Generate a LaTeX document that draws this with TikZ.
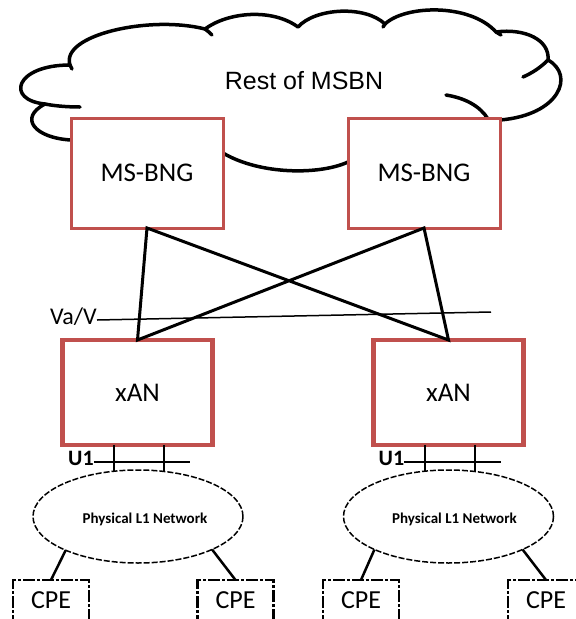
\documentclass[tikz,border=0pt]{standalone}
\usepackage{fontspec}
\setmainfont{Carlito}
\newfontfamily\arialf{Liberation Sans}
\usetikzlibrary{shapes.geometric}
\definecolor{boxred}{RGB}{192,80,77}
\begin{document}
\begin{tikzpicture}[x=1pt,y=-1pt,
  cloudline/.style={line width=3.5pt, line cap=round, line join=round},
  bngbox/.style={draw=boxred, line width=3pt, fill=white, minimum width=152pt, minimum height=110pt, inner sep=0pt, outer sep=0pt, font=\fontsize{27}{30}\selectfont},
  xanbox/.style={draw=boxred, line width=4.5pt, fill=white, minimum width=150pt, minimum height=105pt, inner sep=0pt, outer sep=0pt, font=\fontsize{27}{30}\selectfont},
  link/.style={line width=3pt, line join=miter},
  refline/.style={line width=1.5pt},
  u1line/.style={line width=2pt},
  l1net/.style={draw, ellipse, dash pattern=on 6pt off 2pt, line width=1.5pt, minimum width=210pt, minimum height=93pt, inner sep=0pt, outer sep=0pt},
  l1txt/.style={font=\bfseries\fontsize{15}{18}\selectfont, inner sep=0pt, anchor=base},
  cpebox/.style={draw, line width=2.5pt, dash pattern=on 12pt off 2pt on 3pt off 2pt, minimum width=76pt, minimum height=41pt, inner sep=0pt, outer sep=0pt, font=\fontsize{26}{30}\selectfont},
  cpelink/.style={line width=2.5pt},
  u1txt/.style={font=\bfseries\fontsize{22}{26}\selectfont, inner sep=0pt, anchor=base}
]
\useasboundingbox (0,0) rectangle (576,619);
\clip (0,0) rectangle (576,619);
\fill[white] (0,0) rectangle (576,619);

% cloud
\draw[cloudline, fill=white] (71,140) .. controls (35,138) and (18,118) .. (45,104)
  .. controls (5,100) and (15,65) .. (70,65)
  .. controls (60,35) and (150,15) .. (205,29)
  .. controls (228,12) and (272,8) .. (298,27)
  .. controls (315,8) and (365,5) .. (385,24)
  .. controls (405,5) and (470,3) .. (496,32)
  .. controls (525,28) and (550,40) .. (548,60)
  .. controls (575,75) and (560,115) .. (500,120)
  -- (420,160) -- (348,162)
  .. controls (320,175) and (260,175) .. (223,153)
  -- (150,150) -- cycle;
\draw[cloudline] (45,104) .. controls (55,106) and (68,107) .. (80,107);
\draw[cloudline] (70,65) -- (72,69);
\draw[cloudline] (205,29) .. controls (208,31) and (210,33) .. (212,35);
\draw[cloudline] (385,24) -- (383,27);
\draw[cloudline] (496,32) -- (501,35);
\draw[cloudline] (548,60) .. controls (540,68) and (532,73) .. (523,77);
\draw[cloudline] (446,95) .. controls (465,98) and (480,106) .. (488,119);
\node[font=\arialf\fontsize{25}{30}\selectfont, inner sep=0pt, anchor=base] (cloudtxt) at (304,89) {Rest of MSBN};

% boxes
\node[bngbox] (bngL) at (147,173) {MS-BNG};
\node[bngbox] (bngR) at (424,173) {MS-BNG};
\node[xanbox] (xanL) at (137.5,392.5) {xAN};
\node[xanbox] (xanR) at (448.5,392.5) {xAN};

% cross links
\draw[link] (xanL.north) -- (bngL.south) -- (xanR.north) -- (bngR.south) -- cycle;

% Va/V reference line
\node[font=\fontsize{24}{28}\selectfont, inner sep=0pt, anchor=base east] (va) at (97,324) {Va/V};
\coordinate (vaA) at (97,320);
\coordinate (vaB) at (491,312);
\draw[refline] (vaA) -- (vaB);

% L1 networks
\node[l1net] (ellL) at (138,516.5) {};
\node[l1net] (ellR) at (448.5,516.5) {};
\node[l1txt] (ellLt) at (145,523) {Physical L1 Network};
\node[l1txt] (ellRt) at (454.5,523) {Physical L1 Network};

% U1
\node[u1txt] (u1L) at (81,465) {U1};
\node[u1txt] (u1R) at (391.5,465) {U1};
\coordinate (u1La) at (94,462);
\coordinate (u1Lb) at (190,462);
\coordinate (u1Ra) at (404,462);
\coordinate (u1Rb) at (501,462);
\draw[u1line] (u1La) -- (u1Lb);
\draw[u1line] (u1Ra) -- (u1Rb);
\coordinate (tL1) at (114,472);
\coordinate (tL2) at (164,472);
\coordinate (tR1) at (425,472);
\coordinate (tR2) at (475,472);
\draw[u1line] (xanL.south -| tL1) -- (tL1);
\draw[u1line] (xanL.south -| tL2) -- (tL2);
\draw[u1line] (xanR.south -| tR1) -- (tR1);
\draw[u1line] (xanR.south -| tR2) -- (tR2);

% CPEs
\node[cpebox] (cpe1) at (51,600.5) {CPE};
\node[cpebox] (cpe2) at (235.5,600.5) {CPE};
\node[cpebox] (cpe3) at (361,600.5) {CPE};
\node[cpebox] (cpe4) at (546,600.5) {CPE};
\draw[cpelink] (ellL.205) -- (cpe1.north);
\draw[cpelink] (ellL.336) -- (cpe2.north);
\draw[cpelink] (ellR.204) -- (cpe3.north);
\draw[cpelink] (ellR.336) -- (cpe4.north);
\end{tikzpicture}
\end{document}
